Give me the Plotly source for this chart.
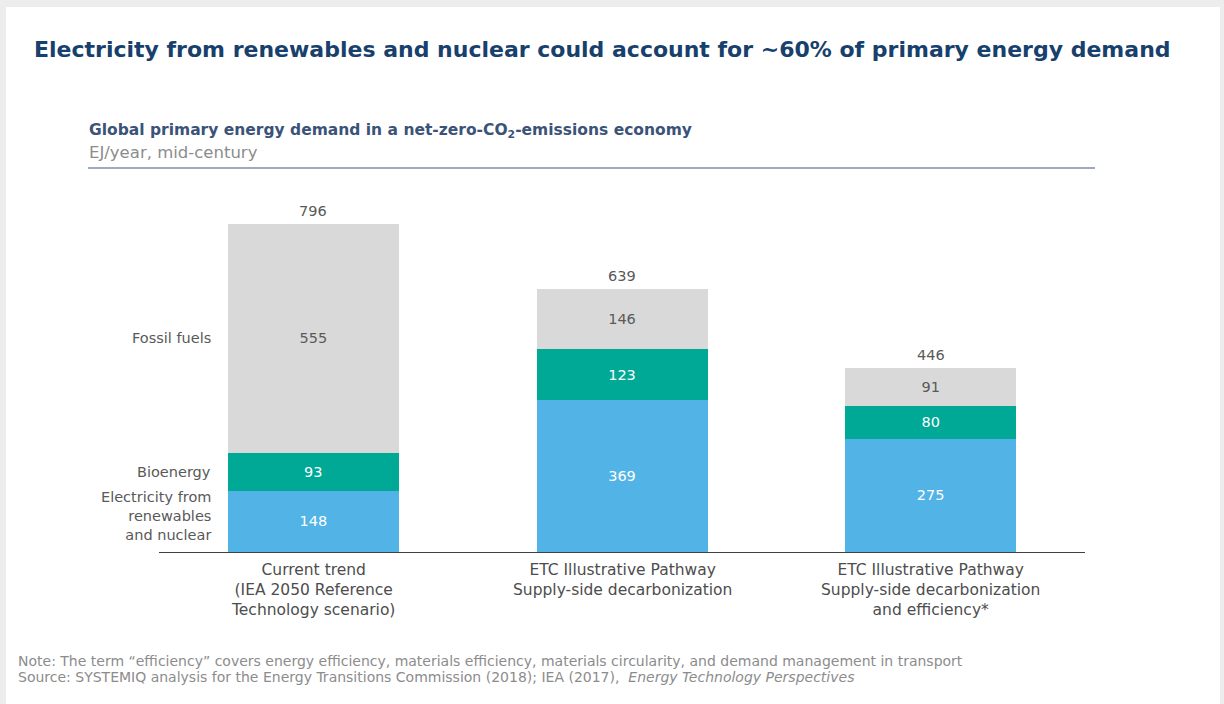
import plotly.graph_objects as go

categories = [
    "Current trend<br>(IEA 2050 Reference<br>Technology scenario)",
    "ETC Illustrative Pathway<br>Supply-side decarbonization",
    "ETC Illustrative Pathway<br>Supply-side decarbonization<br>and efficiency*",
]
electricity = [148, 369, 275]
bioenergy = [93, 123, 80]
fossil = [555, 146, 91]
totals = [796, 639, 446]
series_names = ["Electricity from<br>renewables<br>and nuclear", "Bioenergy", "Fossil fuels"]

W, H = 1224, 704
L, R, T, B = 159, 1085, 181, 552
FONT = "DejaVu Sans"

def px(xp):
    return (xp - L) / (R - L)

def py(yp):
    return (B - yp) / (B - T)

xs = [0, 1, 2]
fig = go.Figure()
colors = ["#52b3e6", "#00a896", "#d9d9d9"]
tcolors = ["#ffffff", "#ffffff", "#595959"]
for vals, name, c, tc in zip([electricity, bioenergy, fossil], series_names, colors, tcolors):
    fig.add_trace(go.Bar(
        x=xs, y=vals, name=name, marker=dict(color=c, line=dict(width=0)),
        text=[str(v) for v in vals], textposition="inside", insidetextanchor="middle",
        textfont=dict(color=tc, size=14.5, family=FONT), textangle=0,
        hoverinfo="skip", showlegend=False,
    ))

annotations = []
for i, t in enumerate(totals):
    annotations.append(dict(x=i, y=t, xref="x", yref="y", text=str(t), showarrow=False,
                            yanchor="bottom", yshift=3, font=dict(size=14.5, color="#595959", family=FONT)))
for i, c in enumerate(categories):
    annotations.append(dict(x=i, y=0, xref="x", yref="y", text=c, showarrow=False,
                            yanchor="top", yshift=-7, font=dict(size=15.5, color="#4d4d4d", family=FONT)))

bw = 0.554
left_edge = -bw / 2
seg_centers = [electricity[0] / 2, electricity[0] + bioenergy[0] / 2,
               electricity[0] + bioenergy[0] + fossil[0] / 2]
shifts = [6, 0, 0]
for name, yc, s in zip(series_names, seg_centers, shifts):
    annotations.append(dict(x=left_edge, y=yc, xref="x", yref="y", text=name, showarrow=False,
                            xanchor="right", yanchor="middle", xshift=-15, yshift=s, align="right",
                            font=dict(size=14.5, color="#595959", family=FONT)))

annotations += [
    dict(x=px(32), y=py(50), xref="paper", yref="paper", xanchor="left", yanchor="middle",
         text="<b>Electricity from renewables and nuclear could account for ~60% of primary energy demand</b>",
         showarrow=False, font=dict(size=22, color="#17406d", family=FONT)),
    dict(x=px(87), y=py(131), xref="paper", yref="paper", xanchor="left", yanchor="middle",
         text="<b>Global primary energy demand in a net-zero-CO<sub>2</sub>-emissions economy</b>",
         showarrow=False, font=dict(size=15.5, color="#3b5378", family=FONT)),
    dict(x=px(87), y=py(152), xref="paper", yref="paper", xanchor="left", yanchor="middle",
         text="EJ/year, mid-century",
         showarrow=False, font=dict(size=16.5, color="#8c8c8c", family=FONT)),
    dict(x=px(16), y=py(661), xref="paper", yref="paper", xanchor="left", yanchor="middle",
         text="Note: The term \u201cefficiency\u201d covers energy efficiency, materials efficiency, materials circularity, and demand management in transport",
         showarrow=False, font=dict(size=14, color="#8c8c8c", family=FONT)),
    dict(x=px(16), y=py(677), xref="paper", yref="paper", xanchor="left", yanchor="middle",
         text="Source: SYSTEMIQ analysis for the Energy Transitions Commission (2018); IEA (2017),  <i>Energy Technology Perspectives</i>",
         showarrow=False, font=dict(size=14, color="#8c8c8c", family=FONT)),
]

shapes = [
    dict(type="rect", xref="paper", yref="paper", x0=px(6), x1=px(1220), y0=py(7), y1=py(704),
         fillcolor="#ffffff", line=dict(width=0), layer="below"),
    dict(type="line", xref="paper", yref="paper", x0=px(88), x1=px(1095), y0=py(168), y1=py(168),
         line=dict(color="#7f8ea8", width=1.5)),
]

fig.update_layout(
    width=W, height=H,
    margin=dict(l=L, r=W - R, t=T, b=H - B, pad=0),
    barmode="stack", bargap=1 - bw,
    paper_bgcolor="#ededed", plot_bgcolor="rgba(0,0,0,0)",
    xaxis=dict(range=[-0.5, 2.5], showticklabels=False, showgrid=False, zeroline=False,
               showline=True, linecolor="#404040", linewidth=1, ticks="", fixedrange=True),
    yaxis=dict(range=[0, 900], visible=False, showgrid=False, zeroline=False, fixedrange=True),
    annotations=annotations, shapes=shapes,
    font=dict(family=FONT),
    uniformtext=dict(minsize=14, mode="show"),
)

fig.write_html("out.html", config={"displayModeBar": False},
               post_script="document.body.style.margin='0';document.body.style.overflow='hidden';")
